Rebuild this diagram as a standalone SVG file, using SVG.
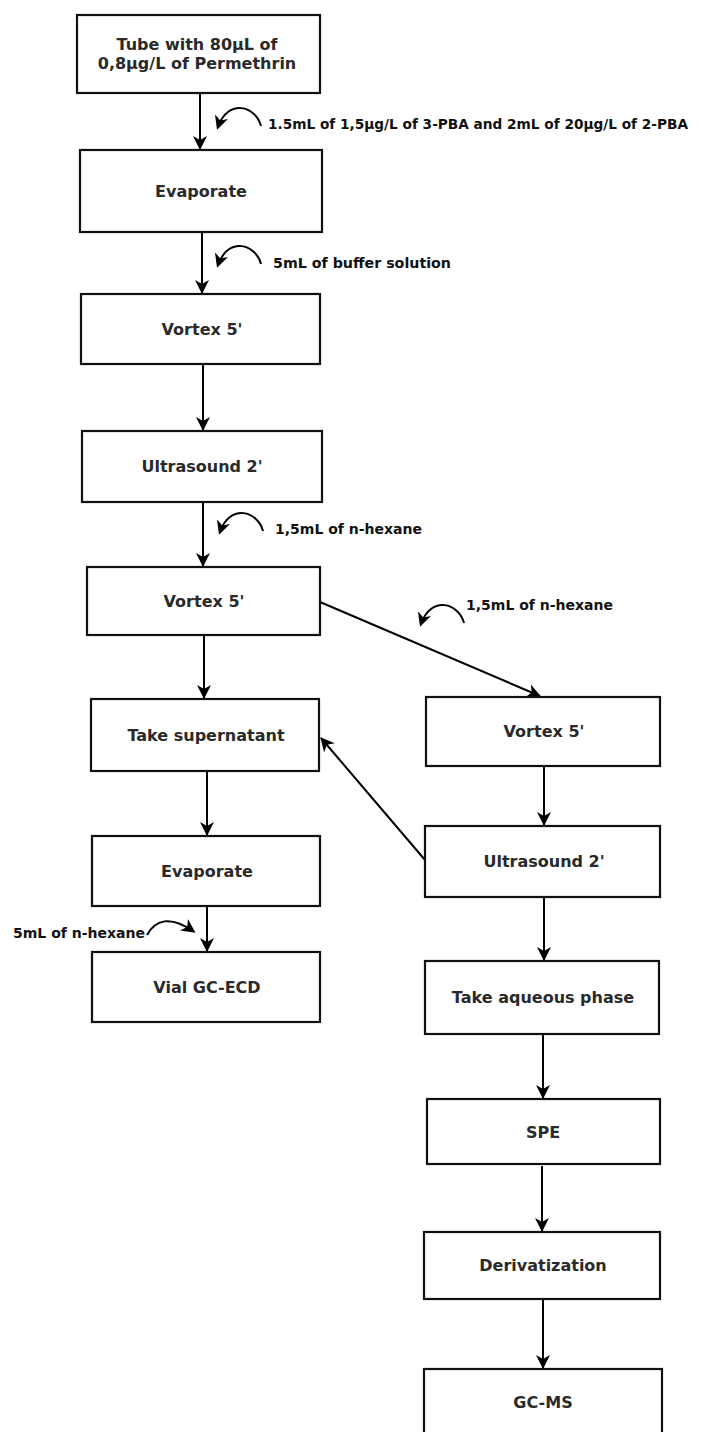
<svg xmlns="http://www.w3.org/2000/svg" width="710" height="1432" viewBox="0 0 710 1432">
<defs>
<style>
.box{fill:#fff;stroke:#111;stroke-width:2.2}
.t{font-family:"DejaVu Sans",Verdana,sans-serif;font-size:16px;font-weight:bold;fill:#2a2a2a;text-anchor:middle;dominant-baseline:central}
.lbl{font-family:"DejaVu Sans",Verdana,sans-serif;font-size:14px;font-weight:bold;fill:#111}
.c{fill:none;stroke:#000;stroke-width:2}
.arc{fill:none;stroke:#000;stroke-width:2}
</style>
<marker id="ah" viewBox="0 0 14 14" refX="13" refY="7" markerWidth="14" markerHeight="14" markerUnits="userSpaceOnUse" orient="auto">
<path d="M0,0 L14,7 L0,14 L4,7 z" fill="#000"/>
</marker>
<marker id="ah2" viewBox="0 0 14 14" refX="11" refY="7" markerWidth="14" markerHeight="14" markerUnits="userSpaceOnUse" orient="auto">
<path d="M0,0 L14,7 L0,14 L4,7 z" fill="#000"/>
</marker>
</defs>
<rect width="710" height="1432" fill="#fff"/>

<g id="connectors">
<line class="c" x1="200" y1="93" x2="200" y2="149" marker-end="url(#ah)"/>
<line class="c" x1="202" y1="232" x2="202" y2="293" marker-end="url(#ah)"/>
<line class="c" x1="203" y1="364" x2="203" y2="430" marker-end="url(#ah)"/>
<line class="c" x1="203" y1="502" x2="203" y2="566" marker-end="url(#ah)"/>
<line class="c" x1="204" y1="635" x2="204" y2="698" marker-end="url(#ah)"/>
<line class="c" x1="207" y1="771" x2="207" y2="835" marker-end="url(#ah)"/>
<line class="c" x1="207" y1="906" x2="207" y2="951" marker-end="url(#ah)"/>
<line class="c" x1="320" y1="602" x2="540" y2="696" marker-end="url(#ah)"/>
<line class="c" x1="425" y1="860" x2="321" y2="738" marker-end="url(#ah)"/>
<line class="c" x1="544" y1="766" x2="544" y2="825" marker-end="url(#ah)"/>
<line class="c" x1="544" y1="897" x2="544" y2="960" marker-end="url(#ah)"/>
<line class="c" x1="543" y1="1034" x2="543" y2="1098" marker-end="url(#ah)"/>
<line class="c" x1="542" y1="1166" x2="542" y2="1231" marker-end="url(#ah)"/>
<line class="c" x1="543" y1="1299" x2="543" y2="1368" marker-end="url(#ah)"/>
<path class="arc" d="M261 126 C256 106 228 98 218 127" marker-end="url(#ah2)"/>
<path class="arc" d="M261 264 C256 244 228 236 218 265" marker-end="url(#ah2)"/>
<path class="arc" d="M263 531 C258 511 230 503 220 532" marker-end="url(#ah2)"/>
<path class="arc" d="M464 623 C459 603 431 595 421 624" marker-end="url(#ah2)"/>
<path class="arc" d="M147 935 C155 920 170 915 193 931" marker-end="url(#ah2)"/>
</g>

<g id="label-1"><text class="lbl" x="268" y="129" textLength="420" lengthAdjust="spacingAndGlyphs">1.5mL of 1,5µg/L of 3-PBA and 2mL of 20µg/L of 2-PBA</text></g>
<g id="label-2"><text class="lbl" x="273" y="268" textLength="178" lengthAdjust="spacingAndGlyphs">5mL of buffer solution</text></g>
<g id="label-3"><text class="lbl" x="275" y="534" textLength="147" lengthAdjust="spacingAndGlyphs">1,5mL of n-hexane</text></g>
<g id="label-4"><text class="lbl" x="466" y="610" textLength="147" lengthAdjust="spacingAndGlyphs">1,5mL of n-hexane</text></g>
<g id="label-5"><text class="lbl" x="13" y="938" textLength="132" lengthAdjust="spacingAndGlyphs">5mL of n-hexane</text></g>

<g id="n1"><rect class="box" x="77" y="15" width="243" height="78"/><text class="t" x="197" y="44">Tube with 80µL of</text><text class="t" x="197" y="63">0,8µg/L of Permethrin</text></g>
<g id="n2"><rect class="box" x="80" y="150" width="242" height="82"/><text class="t" x="201" y="191">Evaporate</text></g>
<g id="n3"><rect class="box" x="81" y="294" width="239" height="70"/><text class="t" x="202" y="329">Vortex 5'</text></g>
<g id="n4"><rect class="box" x="82" y="431" width="240" height="71"/><text class="t" x="202" y="466">Ultrasound 2'</text></g>
<g id="n5"><rect class="box" x="87" y="567" width="233" height="68"/><text class="t" x="204" y="601">Vortex 5'</text></g>
<g id="n6"><rect class="box" x="91" y="699" width="228" height="72"/><text class="t" x="206" y="735">Take supernatant</text></g>
<g id="n7"><rect class="box" x="92" y="836" width="228" height="70"/><text class="t" x="207" y="871">Evaporate</text></g>
<g id="n8"><rect class="box" x="92" y="952" width="228" height="70"/><text class="t" x="207" y="987">Vial GC-ECD</text></g>
<g id="n9"><rect class="box" x="426" y="697" width="234" height="69"/><text class="t" x="544" y="731">Vortex 5'</text></g>
<g id="n10"><rect class="box" x="425" y="826" width="235" height="71"/><text class="t" x="544" y="861">Ultrasound 2'</text></g>
<g id="n11"><rect class="box" x="425" y="961" width="234" height="73"/><text class="t" x="543" y="997">Take aqueous phase</text></g>
<g id="n12"><rect class="box" x="427" y="1099" width="233" height="65"/><text class="t" x="543" y="1132">SPE</text></g>
<g id="n13"><rect class="box" x="424" y="1232" width="236" height="67"/><text class="t" x="543" y="1265">Derivatization</text></g>
<g id="n14"><rect class="box" x="424" y="1369" width="238" height="72"/><text class="t" x="543" y="1402">GC-MS</text></g>
</svg>
